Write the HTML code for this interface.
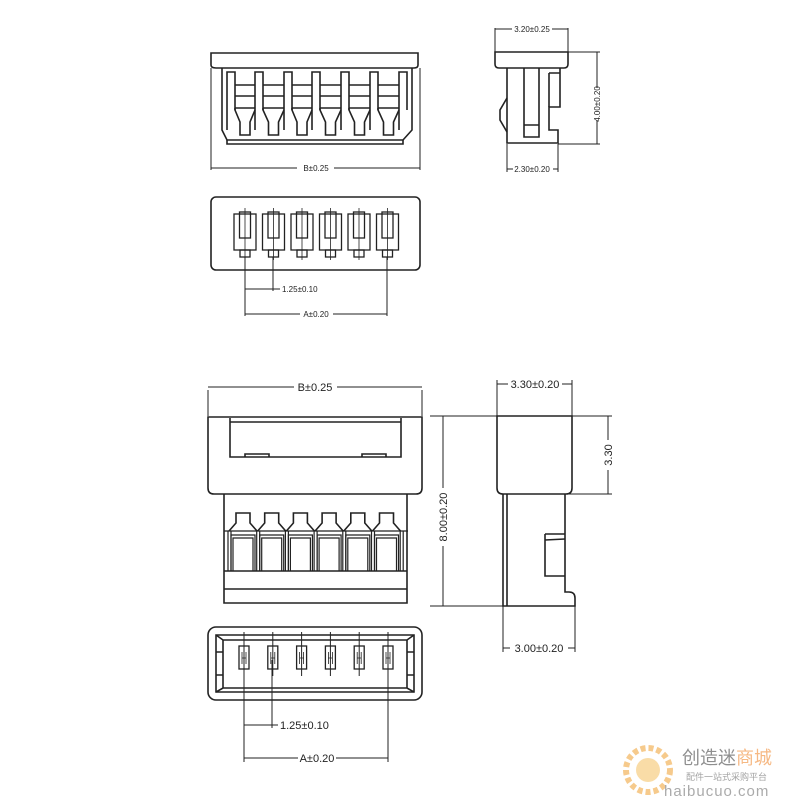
<!DOCTYPE html>
<html><head><meta charset="utf-8"><style>
html,body{margin:0;padding:0;background:#fff;width:800px;height:800px;overflow:hidden}
svg{display:block}
text{font-family:"Liberation Sans","Noto Sans CJK SC",sans-serif;fill:#222}
</style></head><body>
<svg id="s" width="800" height="800" viewBox="0 0 800 800" xmlns="http://www.w3.org/2000/svg">
<g id="g" fill="none" stroke="#222" stroke-width="1.6">
<!-- TOP FRONT VIEW -->
<path d="M211 65 L211 53 L418 53 L418 65 Q418 68 414 68 L216 68 Q211 68 211 65 Z"/>
<path d="M222 68 L222 130 L227 140 L403 140 L412 130 L412 68"/>
<path d="M227 140 L227 144 L403 144 L403 140"/>
<!-- dims top -->
<path d="M211 68 L211 170 M420 68 L420 170" stroke-width="1"/>
<path d="M211 168 L297 168 M334 168 L420 168" stroke-width="1"/>
<!-- side view top -->
<path d="M495 52 L568 52 L568 64 Q568 68 564 68 L499 68 Q495 68 495 64 Z"/>
<path d="M507 68 L507 143 L558 143 L558 130 L549 130 L549 107 L560 107 L560 68"/>
<path d="M549 73 L560 73 M549 73 L549 107"/>
<path d="M524 68 L524 137 L539 137 L539 68 M524 125 L539 125"/>
<path d="M507 98 L500 110 L500 120 L507 132"/>
<path d="M495 28 L495 52 M568 28 L568 52 M495 29 L512 29 M552 29 L568 29" stroke-width="1"/>
<path d="M568 52 L600 52 M558 144 L600 144 M597 52 L597 88 M597 120 L597 144" stroke-width="1"/>
<path d="M507 144 L507 172 M558 144 L558 172 M507 169 L513 169 M553 169 L558 169" stroke-width="1"/>
<!-- top view 1 -->
<rect x="211" y="197" width="209" height="73" rx="5"/>
<path d="M245 257 L245 316 M273 257 L273 291 M387 257 L387 316" stroke-width="1"/>
<path d="M245 289 L280 289 M245 314 L300 314 M333 314 L387 314" stroke-width="1"/>
<!-- BOTTOM FRONT VIEW -->
<path d="M208 417 L422 417 L422 488 Q422 494 416 494 L214 494 Q208 494 208 488 Z"/>
<path d="M230 418 L230 457 L401 457 L401 418 M230 422 L401 422"/>
<path d="M245 457 L245 454 L269 454 L269 457 M362 457 L362 454 L386 454 L386 457"/>
<path d="M224 494 L224 603 L407 603 L407 494 M224 589 L407 589 M224 571 L407 571"/>
<path d="M208 416 L208 390 M422 416 L422 390 M208 387 L294 387 M337 387 L422 387" stroke-width="1"/>
<path d="M430 416 L497 416 M430 606 L503 606 M443 416 L443 488 M443 546 L443 606" stroke-width="1"/>
<!-- bottom side view -->
<path d="M497 416 L572 416 L572 488 Q572 494 566 494 L503 494 Q497 494 497 488 Z"/>
<path d="M503 494 L503 606 L575 606 L575 598 Q575 592 569 592 L565 592 L565 494 M507 494 L507 606"/>
<path d="M545 534 L565 534 M545 534 L545 576 L565 576 M545 540 L565 539"/>
<path d="M497 416 L497 380 M572 416 L572 380 M497 384 L508 384 M562 384 L572 384" stroke-width="1"/>
<path d="M572 416 L612 416 M565 494 L612 494 M608 416 L608 440 M608 470 L608 494" stroke-width="1"/>
<path d="M503 606 L503 652 M575 606 L575 652 M503 648 L510 648 M568 648 L575 648" stroke-width="1"/>
<!-- bottom top view -->
<rect x="208" y="627" width="214" height="73" rx="8"/>
<path d="M216 635 L414 635 L414 692 L216 692 Z"/>
<path d="M216 635 L223 640 L407 640 L414 635 M216 692 L223 688 L407 688 L414 692 M223 640 L223 688 M407 640 L407 688"/>
<path d="M216 652 L223 652 M216 675 L223 675 M407 652 L414 652 M407 675 L414 675"/>
<path d="M244 660 L244 762 M272 660 L272 728 M388 660 L388 762" stroke-width="1"/>
<path d="M244 725 L278 725 M244 758 L298 758 M336 758 L388 758" stroke-width="1"/>
</g>
<g font-size="9">
<text x="316" y="171" text-anchor="middle" font-size="8">B±0.25</text>
<text x="532" y="32" text-anchor="middle" font-size="8">3.20±0.25</text>
<text x="532" y="172" text-anchor="middle" font-size="8">2.30±0.20</text>
<text x="600" y="104" text-anchor="middle" font-size="8" transform="rotate(-90 600 104)">4.00±0.20</text>
<text x="282" y="292" font-size="8">1.25±0.10</text>
<text x="316" y="317" text-anchor="middle" font-size="8">A±0.20</text>
<text x="315" y="391" text-anchor="middle" font-size="11">B±0.25</text>
<text x="535" y="388" text-anchor="middle" font-size="11">3.30±0.20</text>
<text x="539" y="652" text-anchor="middle" font-size="11">3.00±0.20</text>
<text x="447" y="517" text-anchor="middle" font-size="11" transform="rotate(-90 447 517)">8.00±0.20</text>
<text x="612" y="455" text-anchor="middle" font-size="11" transform="rotate(-90 612 455)">3.30</text>
<text x="280" y="729" font-size="11">1.25±0.10</text>
<text x="317" y="762" text-anchor="middle" font-size="11">A±0.20</text>
</g>
<g opacity="0.55">
<circle cx="648" cy="770" r="22" fill="none" stroke="#f0a030" stroke-width="6" stroke-dasharray="5 3"/>
<circle cx="648" cy="770" r="12" fill="#f5c060"/>
<text x="682" y="764" font-size="18" fill="#333" style="fill:#333">创造迷</text>
<text x="736" y="764" font-size="18" style="fill:#f08020">商城</text>
<text x="686" y="780" font-size="9" style="fill:#555">配件一站式采购平台</text>
<text x="664" y="796" font-size="15" style="fill:#666" letter-spacing="1">haibucuo.com</text>
</g>
</svg>
<script>
var g=document.getElementById('g'),NS='http://www.w3.org/2000/svg';
function P(d,w){var p=document.createElementNS(NS,'path');p.setAttribute('d',d);if(w)p.setAttribute('stroke-width',w);g.appendChild(p);}
function R(x,y,w,h,sw){var r=document.createElementNS(NS,'rect');r.setAttribute('x',x);r.setAttribute('y',y);r.setAttribute('width',w);r.setAttribute('height',h);if(sw)r.setAttribute('stroke-width',sw);g.appendChild(r);}
// top front posts & cavities
var posts=[227,255,284,312,341,370,399];
for(var i=0;i<7;i++){var x=posts[i];P('M'+x+' 130 L'+x+' 72 L'+(x+8)+' 72 L'+(x+8)+' 110');}
for(var i=0;i<6;i++){var a=posts[i]+8,b=posts[i+1],c=(a+b)/2;
P('M'+a+' 85 L'+b+' 85 M'+a+' 96 L'+b+' 96 M'+a+' 108 L'+b+' 108');
P('M'+a+' 108 L'+a+' 110 L'+(c-5)+' 122 L'+(c-5)+' 135 L'+(c+5)+' 135 L'+(c+5)+' 122 L'+b+' 110');}
// top view 1 pins
for(var i=0;i<6;i++){var c=245+i*28.5;
R(c-11,214,22,36,1.3);R(c-5.5,212,11,26,1.3);R(c-5,250,10,7,1.3);
P('M'+c+' 208 L'+c+' 260',0.8);}
// bottom front pins
for(var i=0;i<6;i++){var c=243+i*28.7;
P('M'+(c-14)+' 531 L'+(c-7)+' 523 L'+(c-7)+' 513 L'+(c+7)+' 513 L'+(c+7)+' 523 L'+(c+14)+' 531');
P('M'+(c-12)+' 571 L'+(c-12)+' 535 L'+(c+12)+' 535 L'+(c+12)+' 571 M'+(c-10)+' 571 L'+(c-10)+' 538 L'+(c+10)+' 538 L'+(c+10)+' 571',1.2);
}
for(var i=0;i<7;i++){var x=229+i*28.7;P('M'+(x-1)+' 531 L'+(x-1)+' 571 M'+(x+2)+' 531 L'+(x+2)+' 571',1.2);}
P('M224 531 L408 531',1.2);
// bottom top view pins
for(var i=0;i<6;i++){var c=244+i*28.8;R(c-5,646,10,23,1.3);P('M'+c+' 632 L'+c+' 676',1);P('M'+(c-2)+' 652 L'+(c-2)+' 664 M'+(c+2)+' 652 L'+(c+2)+' 664 M'+(c-2)+' 658 L'+(c+2)+' 658',0.8);}
</script>
</body></html>
